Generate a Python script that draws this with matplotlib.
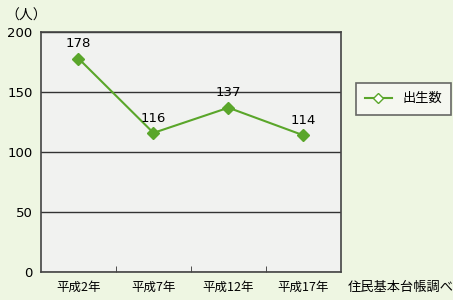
import matplotlib

matplotlib.use("Agg")

import matplotlib.pyplot as plt  # noqa: E402
from matplotlib.ticker import FixedLocator  # noqa: E402

plt.rcParams["font.family"] = ["Noto Sans CJK JP", "DejaVu Sans"]

YEARS = ["平成2年", "平成7年", "平成12年", "平成17年"]
BIRTHS = [178, 116, 137, 114]
Y_TICKS = [0, 50, 100, 150, 200]

GREEN = "#5aa62a"
BG = "#eef6e2"

fig = plt.figure(figsize=(4.53, 3.0), dpi=100, facecolor=BG)
ax = fig.add_axes([0.0905, 0.093, 0.662, 0.8])
ax.set_facecolor("#f1f2f0")

x = list(range(len(YEARS)))
ax.plot(x, BIRTHS, color=GREEN, lw=1.5, marker="D", ms=6.5,
        mfc=GREEN, mec=GREEN, label="出生数")
for xi, v in zip(x, BIRTHS):
    ax.annotate(str(v), (xi, v), xytext=(0, 6), textcoords="offset points",
                ha="center", va="bottom", fontsize=9.5, family="DejaVu Sans")

ax.set_xlim(-0.5, len(YEARS) - 0.5)
ax.set_ylim(0, 200)
ax.set_yticks(Y_TICKS)
ax.set_yticklabels([str(v) for v in Y_TICKS], family="DejaVu Sans", fontsize=9.5)
ax.tick_params(axis="y", length=0, pad=6)
ax.yaxis.grid(True, color="#333333", lw=1.0)
ax.set_axisbelow(True)

ax.set_xticks(x)
ax.set_xticklabels(YEARS, fontsize=9)
ax.tick_params(axis="x", length=0, pad=6)
ax.xaxis.set_minor_locator(FixedLocator([0.5, 1.5, 2.5]))
ax.tick_params(axis="x", which="minor", direction="in", length=4, color="#333333")

for s in ax.spines.values():
    s.set_color("#444444")
    s.set_linewidth(1.2)

fig.text(0.012, 0.948, "（人）", fontsize=10, ha="left", va="center")
fig.text(0.768, 0.043, "住民基本台帳調べ", fontsize=9.5, ha="left", va="center")

leg = fig.legend(loc="upper left", bbox_to_anchor=(0.786, 0.723),
                 fontsize=9.5, frameon=True, fancybox=False, borderaxespad=0,
                 handlelength=2.0, borderpad=0.7)
leg.get_frame().set_edgecolor("#444444")
leg.get_frame().set_linewidth(1.2)
leg.get_frame().set_facecolor("#f8f8f4")
leg.legend_handles[0].set_markerfacecolor("white")
leg.legend_handles[0].set_markersize(5)

fig.savefig("out.png", dpi=100, facecolor=BG)
